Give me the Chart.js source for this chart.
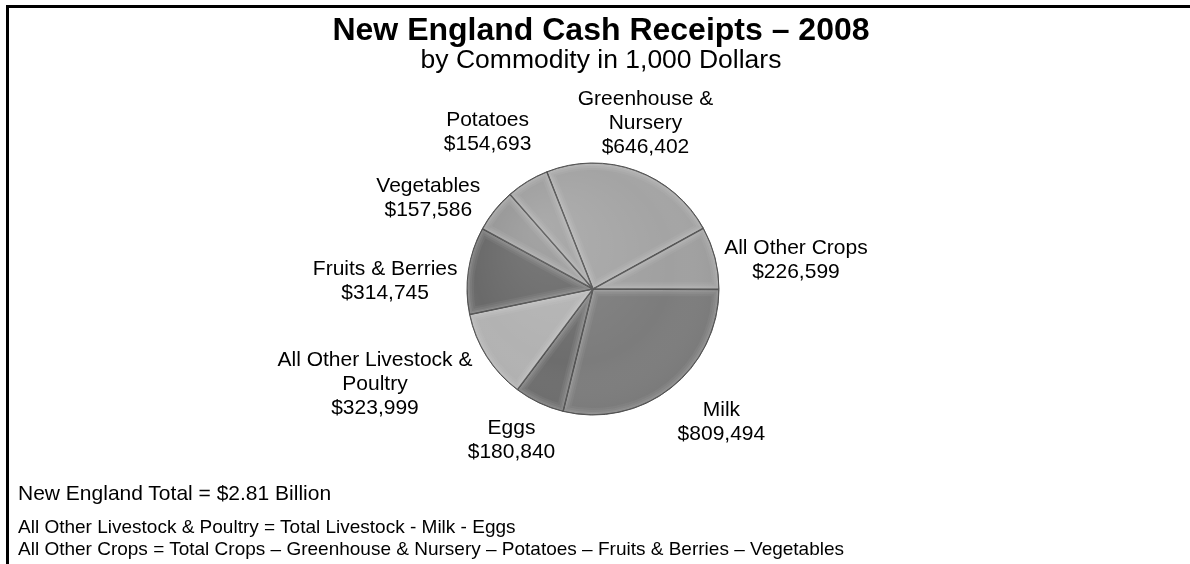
<!DOCTYPE html>
<html>
<head>
<meta charset="utf-8">
<title>New England Cash Receipts 2008</title>
<script src="https://cdn.jsdelivr.net/npm/chart.js@4.4.1/dist/chart.umd.min.js"></script>
<style>
  html, body { margin: 0; padding: 0; background: #fff; }
  body {
    width: 1190px; height: 564px; position: relative; overflow: hidden;
    font-family: "Liberation Sans", Arial, sans-serif; color: #000;
  }
  #pie { position: absolute; left: 0; top: 0; }
  .frame {
    position: absolute; left: 6px; top: 5px; right: -10px; bottom: -10px;
    border-top: 3px solid #000; border-left: 3px solid #000;
  }
  .txt { position: absolute; line-height: 1; white-space: nowrap; }
  .title { left: 0; width: 1202px; text-align: center; top: 13px; font-size: 32px; font-weight: bold; }
  .subtitle { left: 0; width: 1202px; text-align: center; top: 46px; font-size: 26.5px; }
  .total { left: 18px; top: 482px; font-size: 21px; }
  .note1 { left: 18px; top: 517px; font-size: 19px; }
  .note2 { left: 18px; top: 539px; font-size: 19px; }
</style>
</head>
<body>
<canvas id="pie" width="1190" height="564"></canvas>
<div class="frame"></div>
<div class="txt title">New England Cash Receipts – 2008</div>
<div class="txt subtitle">by Commodity in 1,000 Dollars</div>
<div class="txt total">New England Total = $2.81 Billion</div>
<div class="txt note1">All Other Livestock &amp; Poultry = Total Livestock - Milk - Eggs</div>
<div class="txt note2">All Other Crops = Total Crops – Greenhouse &amp; Nursery – Potatoes – Fruits &amp; Berries – Vegetables</div>
<script>
// commodities, clockwise from Greenhouse & Nursery
const commodities = ['Greenhouse & Nursery', 'All Other Crops', 'Milk', 'Eggs',
  'All Other Livestock & Poultry', 'Fruits & Berries', 'Vegetables', 'Potatoes'];
const receipts = [646402, 226599, 809494, 180840, 323999, 314745, 157586, 154693];
const labelLines = [['Greenhouse &', 'Nursery'], ['All Other Crops'], ['Milk'], ['Eggs'],
  ['All Other Livestock &', 'Poultry'], ['Fruits & Berries'], ['Vegetables'], ['Potatoes']];

// slice shades and label placement (distance from centre, angle nudge in degrees)
const shades = ['#a4a4a4', '#a0a0a0', '#7c7c7c', '#6d6d6d', '#b2b2b2', '#6a6a6a', '#989898', '#a0a0a0'];
const labelDist = [174, 205, 185, 172, 238, 208, 188, 189];
const labelShift = [-2.3, 6.2, -5.9, 3.0, 8.8, -6.2, -9.8, -2.5];

const fmt = v => '$' + v.toLocaleString('en-US');

function slicePath(ctx, p) {
  ctx.beginPath();
  ctx.moveTo(p.x, p.y);
  ctx.arc(p.x, p.y, p.outerRadius, p.startAngle, p.endAngle);
  ctx.closePath();
}

// soft bevel along every slice edge plus a light from the upper left
const bevel = {
  id: 'bevel',
  afterDatasetsDraw(chart) {
    const ctx = chart.ctx;
    const arcs = chart.getDatasetMeta(0).data;
    arcs.forEach(arc => {
      const p = arc.getProps(['x', 'y', 'startAngle', 'endAngle', 'outerRadius']);
      ctx.save();
      slicePath(ctx, p);
      ctx.clip();
      ctx.lineJoin = 'round';
      [[14, 0.05], [10, 0.06], [6, 0.08], [3, 0.10]].forEach(([w, a]) => {
        ctx.strokeStyle = 'rgba(255,255,255,' + a + ')';
        ctx.lineWidth = w;
        ctx.stroke();
      });
      ctx.strokeStyle = 'rgba(45,45,45,0.6)';
      ctx.lineWidth = 1.6;
      ctx.stroke();
      ctx.restore();
    });
    const p = arcs[0].getProps(['x', 'y', 'outerRadius']);
    ctx.save();
    ctx.beginPath();
    ctx.arc(p.x, p.y, p.outerRadius, 0, Math.PI * 2);
    ctx.clip();
    const g = ctx.createRadialGradient(p.x - 50, p.y - 60, 10, p.x, p.y, p.outerRadius * 1.25);
    g.addColorStop(0, 'rgba(255,255,255,0.10)');
    g.addColorStop(0.6, 'rgba(255,255,255,0)');
    g.addColorStop(1, 'rgba(0,0,0,0.14)');
    ctx.fillStyle = g;
    ctx.fillRect(p.x - p.outerRadius, p.y - p.outerRadius, p.outerRadius * 2, p.outerRadius * 2);
    ctx.restore();
  }
};

// name and value written outside each slice
const sliceLabels = {
  id: 'sliceLabels',
  afterDatasetsDraw(chart) {
    const ctx = chart.ctx;
    const meta = chart.getDatasetMeta(0);
    ctx.save();
    ctx.font = '21px "Liberation Sans", Arial, sans-serif';
    ctx.fillStyle = '#000';
    ctx.textAlign = 'center';
    ctx.textBaseline = 'middle';
    meta.data.forEach((arc, i) => {
      const p = arc.getProps(['x', 'y', 'startAngle', 'endAngle']);
      const a = (p.startAngle + p.endAngle) / 2 + labelShift[i] * Math.PI / 180;
      const cx = p.x + Math.cos(a) * labelDist[i];
      const cy = p.y + Math.sin(a) * labelDist[i];
      const lines = labelLines[i].concat(fmt(receipts[i]));
      const lh = 24;
      lines.forEach((t, k) => ctx.fillText(t, cx, cy + (k - (lines.length - 1) / 2) * lh));
    });
    ctx.restore();
  }
};

new Chart(document.getElementById('pie'), {
  type: 'pie',
  data: {
    labels: commodities,
    datasets: [{
      data: receipts,
      backgroundColor: shades,
      borderColor: '#4a4a4a',
      borderWidth: 1,
      radius: 126
    }]
  },
  options: {
    responsive: false,
    animation: false,
    devicePixelRatio: 1,
    rotation: -21.5,
    layout: { padding: { left: 0, right: 4, top: 14, bottom: 0 } },
    plugins: {
      legend: { display: false },
      tooltip: { enabled: false }
    }
  },
  plugins: [bevel, sliceLabels]
});
</script>
</body>
</html>
